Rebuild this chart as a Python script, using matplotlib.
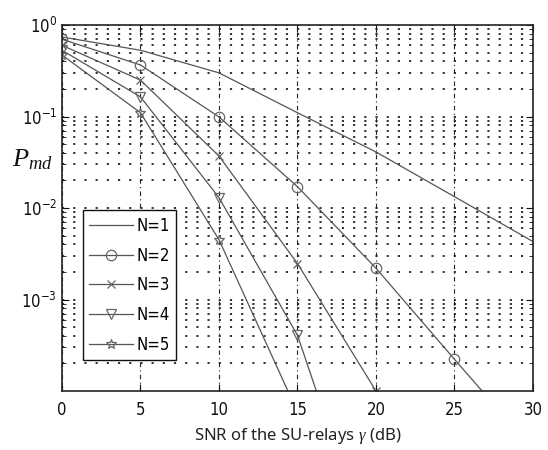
import numpy as np
import matplotlib
matplotlib.use("Agg")
import matplotlib.pyplot as plt
from matplotlib import font_manager
from matplotlib.ticker import LogLocator, FixedLocator, NullFormatter

# prefer a condensed sans if there is one
names = {f.name for f in font_manager.fontManager.ttflist}
narrow = [n for n in ["Liberation Sans Narrow", "DejaVu Sans"] if n in names]
plt.rcParams['font.family'] = narrow + ["DejaVu Sans"]
plt.rcParams['font.stretch'] = 'condensed'
plt.rcParams['mathtext.fontset'] = 'custom'
plt.rcParams['mathtext.rm'] = narrow[0] + ':stretch=condensed'
plt.rcParams['mathtext.it'] = 'Liberation Serif:italic'
plt.rcParams['mathtext.cal'] = 'Liberation Serif:italic'

# SNR points (dB)
snr = [0, 5, 10, 15, 20, 25, 30]

# missed-detection probability
pmd_n1 = [0.74, 0.53, 0.30, 0.11, 0.041, 0.0133, 0.0043]
pmd_n2 = [0.70, 0.366, 0.099, 0.0171, 0.0022, 2.22e-4, 2.3e-5]
pmd_n3 = [0.60, 0.25, 0.037, 0.00247, 1.0e-4, 4.0e-6, 1.6e-7]
pmd_n4 = [0.53, 0.164, 0.013, 4.06e-4, 1.2e-6, 4.0e-9, 1.2e-11]
pmd_n5 = [0.47, 0.11, 0.0045, 5.9e-5, 8.0e-7, 1.1e-8, 1.5e-10]

series = [pmd_n1, pmd_n2, pmd_n3, pmd_n4, pmd_n5]
labels = ["N=1", "N=2", "N=3", "N=4", "N=5"]
markers = [None, "o", "x", "v", "*"]
msizes = [0, 7.5, 6, 7.5, 7.5]

fig = plt.figure(figsize=(5.48, 4.5), dpi=100)
ax = fig.add_axes([0.1131, 0.1311, 0.8595, 0.8133])

line_col = "#555555"
for y, lab, m, ms in zip(series, labels, markers, msizes):
    ax.semilogy(snr, y, color=line_col, linewidth=0.9, marker=m,
                markersize=ms, markerfacecolor="none",
                markeredgecolor="#666666", markeredgewidth=0.9, label=lab)

ax.set_xlim(0, 30)
ax.set_ylim(1e-4, 1)
ax.xaxis.set_major_locator(FixedLocator([0, 5, 10, 15, 20, 25, 30]))
ax.yaxis.set_major_locator(FixedLocator([1e-3, 1e-2, 1e-1, 1e0]))
ax.yaxis.set_minor_locator(LogLocator(base=10, subs=np.arange(2, 10)))
ax.yaxis.set_minor_formatter(NullFormatter())

# grid like matlab
ax.grid(True, which="major", axis="x", color="#222222",
        linestyle=(0, (4, 3, 1, 3)), linewidth=0.8)
ax.grid(True, which="both", axis="y", color="#222222",
        linestyle=(0, (1.2, 5)), linewidth=1.3)
ax.set_axisbelow(True)

ax.tick_params(which="both", direction="in", top=True, right=True,
               labelsize=12, colors="#111111")
ax.tick_params(which="major", length=5)
ax.tick_params(which="minor", length=3)
ax.tick_params(axis="x", pad=7)
for s in ax.spines.values():
    s.set_linewidth(1.2)
    s.set_color("#222222")

ax.set_xlabel(r"SNR of the SU-relays $\it{\gamma}$ (dB)", fontsize=12,
              family=["Noto Sans", "DejaVu Sans"], stretch="normal",
              color="#222222")
ax.xaxis.set_label_coords(0.5, -0.095)
ax.set_ylabel(r"$P_{md}$", fontsize=19, rotation=0, color="#111111",
              va="center")
ax.yaxis.set_label_coords(-0.062, 0.632)

leg = ax.legend(loc="lower left", bbox_to_anchor=(0.044, 0.084),
                fontsize=12, frameon=True, fancybox=False,
                handlelength=2.6, borderpad=0.4, labelspacing=0.7,
                handletextpad=0.2, borderaxespad=0)
leg.get_frame().set_edgecolor("#111111")
leg.get_frame().set_linewidth(1.0)
leg.get_frame().set_alpha(1)

fig.savefig("out.png", dpi=100)
